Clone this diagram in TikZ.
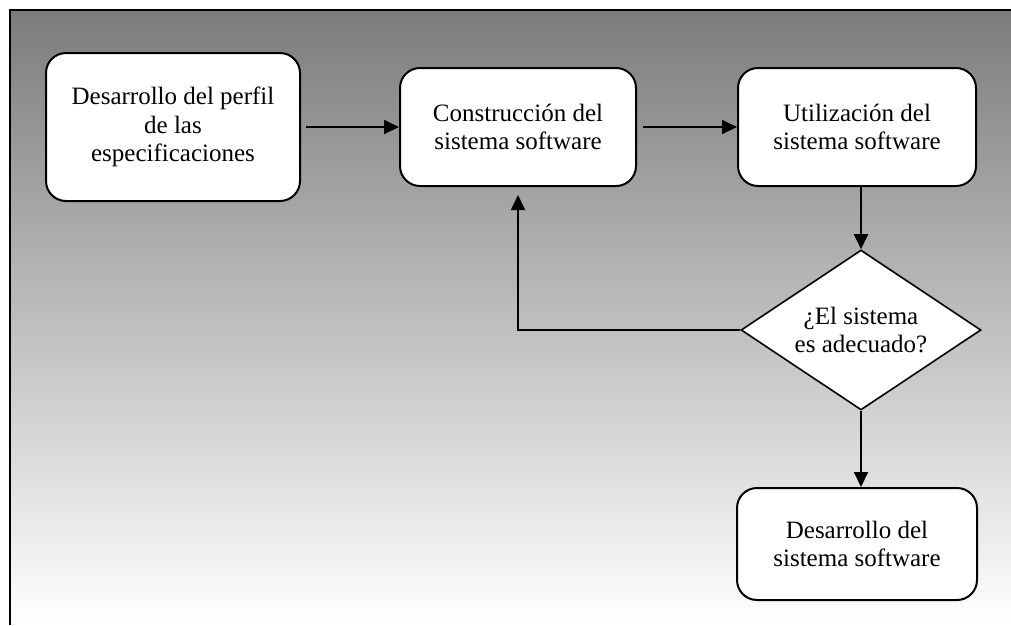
\documentclass[tikz,border=0pt]{standalone}
\usepackage{fontspec}
\setmainfont{Liberation Serif}
\usetikzlibrary{shapes.geometric,arrows.meta}
\definecolor{topgray}{RGB}{124,124,124}
\tikzset{
  procbox/.style={draw=black, line width=2pt, fill=white, rounded corners=20pt, align=center, inner sep=0pt, font=\fontsize{25}{28.5}\selectfont},
  decision/.style={draw=black, line width=1.6pt, fill=white, diamond, aspect=1.5, align=center, inner sep=0pt, font=\fontsize{25}{28.5}\selectfont},
  conn/.style={line width=1.8pt, -{Triangle[length=15pt,width=14pt]}},
}
\begin{document}
\begin{tikzpicture}[x=1pt,y=-1pt]
\useasboundingbox (0,0) rectangle (1011,625);
\shade[top color=topgray, bottom color=white] (10,11) rectangle (1011,625);
\draw[line width=2pt] (9.5,625) -- (9.5,10) -- (1011,10);
\node[procbox, minimum width=254pt, minimum height=148pt] (b1) at (173,127) {Desarrollo del perfil\\de las\\especificaciones};
\node[procbox, minimum width=236pt, minimum height=118pt] (b2) at (518,127) {Construcción del\\sistema software};
\node[procbox, minimum width=238pt, minimum height=118pt] (b3) at (857,127) {Utilización del\\sistema software};
\node[decision, minimum width=240pt, minimum height=160pt] (d) at (861,330) {¿El sistema\\es adecuado?};
\node[procbox, minimum width=240pt, minimum height=112pt] (b4) at (857,544) {Desarrollo del\\sistema software};
\draw[conn] (b1.east) ++(5pt,0) coordinate (s1) -- (b2.west);
\draw[conn] (b2.east) ++(6pt,0) coordinate (s2) -- (b3.west);
\draw[conn] (d.north |- b3.south) -- (d.north);
\draw[conn, shorten >=8pt] (d.west) -| (b2.south);
\draw[conn] (d.south) -- (d.south |- b4.north);
\end{tikzpicture}
\end{document}
